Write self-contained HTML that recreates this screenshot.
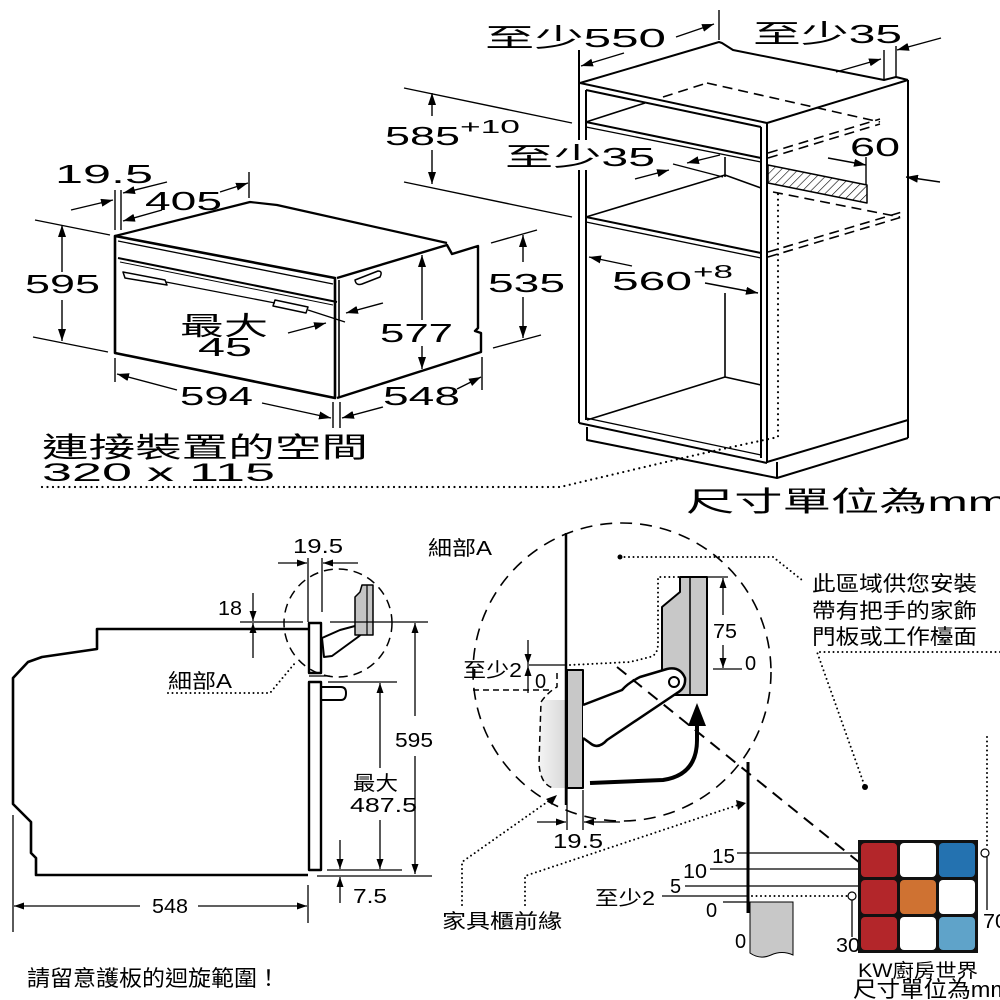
<!DOCTYPE html>
<html><head><meta charset="utf-8"><style>
html,body{margin:0;padding:0;background:#fff}
svg{display:block}
text{font-family:"Liberation Sans","Noto Sans CJK TC","Noto Sans CJK SC",sans-serif;fill:#000}
.w{font-size:26px}
.n{font-size:20px}
</style></head><body>
<svg width="1000" height="1000" viewBox="0 0 1000 1000" xmlns="http://www.w3.org/2000/svg">
<defs>
<marker id="a" viewBox="0 0 12 8" markerWidth="12" markerHeight="8" refX="12" refY="4" orient="auto" markerUnits="userSpaceOnUse"><path d="M0,0L12,4L0,8z"/></marker>
<marker id="s" viewBox="0 0 10 7" markerWidth="10" markerHeight="7" refX="10" refY="3.5" orient="auto" markerUnits="userSpaceOnUse"><path d="M0,0L10,3.5L0,7z"/></marker>
<pattern id="h" width="6" height="6" patternUnits="userSpaceOnUse" patternTransform="rotate(45)"><line x1="0" y1="0" x2="0" y2="6" stroke="#000" stroke-width="1.2"/></pattern>
<linearGradient id="g" x1="0" x2="1" y1="0" y2="0"><stop offset="0" stop-color="#f4f4f4"/><stop offset="1" stop-color="#d8d8d8"/></linearGradient>
</defs>
<rect width="1000" height="1000" fill="#fff"/>

<!-- ============ TOP LEFT OVEN ============ -->
<g stroke="#000" fill="none" stroke-linejoin="round">
  <path d="M115,236 L335,278 L335,398 L115,353 Z" stroke-width="2.6"/>
  <path d="M115,236 L250,202 L277,205 L447,243" stroke-width="2.2"/>
  <path d="M337,278 L447,245 L452,254 L478,246 L478,328 L475,331 L481,333 L481,352 L337,398" stroke-width="2.4"/>
  <line x1="118" y1="241" x2="333" y2="284" stroke-width="1.3"/>
  <line x1="118" y1="258" x2="337" y2="302" stroke-width="2"/>
  <line x1="120" y1="262" x2="333" y2="305" stroke-width="1"/>
  <line x1="339" y1="280" x2="339" y2="398" stroke-width="1.6"/>
  <path d="M123,272 L165,280 L167,285 L125,278 Z" stroke-width="1.5"/>
  <line x1="166" y1="282" x2="275" y2="303" stroke-width="1.3"/>
  <path d="M275,300 L308,307 L306,313 L273,306 Z" stroke-width="1.5"/>
  <path d="M355,280 L378,271 Q383,271 380,277 L362,284 Q356,286 355,280 Z" stroke-width="1.5"/>
  <g stroke-width="1.4">
    <line x1="115" y1="190" x2="115" y2="230"/>
    <line x1="121" y1="190" x2="121" y2="230"/>
    <line x1="71" y1="210" x2="113" y2="200" marker-end="url(#a)"/>
    <line x1="167" y1="182" x2="123" y2="193" marker-end="url(#a)"/>
    <line x1="162" y1="210" x2="123" y2="221" marker-end="url(#a)"/>
    <line x1="220" y1="192" x2="248" y2="183" marker-end="url(#a)"/>
    <line x1="249" y1="172" x2="249" y2="198"/>
    <line x1="35" y1="220" x2="110" y2="235"/>
    <line x1="33" y1="337" x2="108" y2="352"/>
    <line x1="62" y1="272" x2="62" y2="225" marker-end="url(#a)"/>
    <line x1="62" y1="300" x2="62" y2="341" marker-end="url(#a)"/>
    <line x1="308" y1="310" x2="345" y2="322"/>
    <line x1="288" y1="333" x2="326" y2="323" marker-end="url(#a)"/>
    <line x1="383" y1="303" x2="346" y2="313" marker-end="url(#a)"/>
    <line x1="422" y1="320" x2="422" y2="255" marker-end="url(#a)"/>
    <line x1="422" y1="346" x2="422" y2="369" marker-end="url(#a)"/>
    <line x1="115" y1="358" x2="115" y2="382"/>
    <line x1="333" y1="402" x2="333" y2="428"/>
    <line x1="340" y1="402" x2="340" y2="428"/>
    <line x1="177" y1="390" x2="117" y2="374" marker-end="url(#a)"/>
    <line x1="262" y1="403" x2="331" y2="418" marker-end="url(#a)"/>
    <line x1="383" y1="407" x2="342" y2="418" marker-end="url(#a)"/>
    <line x1="457" y1="389" x2="481" y2="377" marker-end="url(#a)"/>
    <line x1="482" y1="357" x2="482" y2="390"/>
    <line x1="491" y1="243" x2="537" y2="230"/>
    <line x1="493" y1="348" x2="541" y2="335"/>
    <line x1="523" y1="262" x2="523" y2="235" marker-end="url(#a)"/>
    <line x1="523" y1="297" x2="523" y2="338" marker-end="url(#a)"/>
    <line x1="404" y1="88" x2="572" y2="123"/>
    <line x1="404" y1="182" x2="572" y2="217"/>
    <line x1="432" y1="116" x2="432" y2="93" marker-end="url(#a)"/>
    <line x1="432" y1="150" x2="432" y2="184" marker-end="url(#a)"/>
  </g>
</g>
<text class="w" x="55" y="183" textLength="98" lengthAdjust="spacingAndGlyphs">19.5</text>
<text class="w" x="145" y="210" textLength="77" lengthAdjust="spacingAndGlyphs">405</text>
<text class="w" x="25" y="293" textLength="75" lengthAdjust="spacingAndGlyphs">595</text>
<text class="w" x="180" y="335" textLength="88" lengthAdjust="spacingAndGlyphs">最大</text>
<text class="w" x="198" y="356" textLength="54" lengthAdjust="spacingAndGlyphs">45</text>
<text class="w" x="380" y="342" textLength="73" lengthAdjust="spacingAndGlyphs">577</text>
<text class="w" x="180" y="405" textLength="73" lengthAdjust="spacingAndGlyphs">594</text>
<text class="w" x="383" y="405" textLength="77" lengthAdjust="spacingAndGlyphs">548</text>
<text class="w" x="488" y="292" textLength="77" lengthAdjust="spacingAndGlyphs">535</text>
<text style="font-size:28px" x="42" y="457" textLength="326" lengthAdjust="spacingAndGlyphs">連接裝置的空間</text>
<text style="font-size:25px" x="42" y="481" textLength="233" lengthAdjust="spacingAndGlyphs">320 x 115</text>

<!-- ============ CABINET ============ -->
<g stroke="#000" fill="none" stroke-width="2" stroke-linejoin="round">
  <line x1="579" y1="50" x2="579" y2="423"/>
  <line x1="586" y1="90" x2="586" y2="420"/>
  <path d="M580,83 L719,42 L722,43 L733,50 L884,80 L896,77 L908,80"/>
  <line x1="908" y1="80" x2="908" y2="438"/>
  <line x1="580" y1="83" x2="767" y2="123"/>
  <line x1="586" y1="90" x2="761" y2="127"/>
  <line x1="767" y1="123" x2="908" y2="80"/>
  <line x1="767" y1="123" x2="767" y2="463"/>
  <line x1="761" y1="127" x2="761" y2="458"/>
  <line x1="586" y1="122" x2="761" y2="158"/>
  <line x1="586" y1="127" x2="761" y2="162" stroke-width="1.3"/>
  <line x1="586" y1="122" x2="645" y2="103" stroke-width="1.6"/>
  <line x1="725" y1="157" x2="725" y2="177" stroke-width="1.6"/>
  <line x1="725" y1="175" x2="761" y2="188" stroke-width="1.6"/>
  <line x1="586" y1="217" x2="725" y2="175" stroke-width="1.6"/>
  <line x1="673" y1="164" x2="723" y2="177" stroke-width="1.3"/>
  <line x1="586" y1="217" x2="761" y2="253"/>
  <line x1="586" y1="222" x2="761" y2="258" stroke-width="1.3"/>
  <line x1="725" y1="293" x2="725" y2="377" stroke-width="1.6"/>
  <line x1="725" y1="377" x2="761" y2="385" stroke-width="1.6"/>
  <line x1="587" y1="420" x2="725" y2="377" stroke-width="1.6"/>
  <line x1="586" y1="418" x2="761" y2="455" stroke-width="1.3"/>
  <line x1="579" y1="423" x2="767" y2="463"/>
  <line x1="767" y1="462" x2="908" y2="420"/>
  <path d="M587,427 L587,440 L777,478 L908,438"/>
  <line x1="777" y1="462" x2="777" y2="478"/>
  <g stroke-dasharray="10,6" stroke-width="1.6">
    <line x1="663" y1="97" x2="707" y2="83"/>
    <line x1="707" y1="83" x2="880" y2="122"/>
    <line x1="768" y1="153" x2="880" y2="119"/>
    <line x1="768" y1="158" x2="880" y2="124"/>
    <line x1="773" y1="192" x2="900" y2="217"/>
    <line x1="768" y1="252" x2="902" y2="212"/>
    <line x1="768" y1="257" x2="902" y2="217"/>
  </g>
  <polygon points="768,165 867,185 867,203 768,183" fill="url(#h)" stroke-width="1.5"/>
  <g stroke-width="1.4">
    <line x1="866" y1="157" x2="866" y2="185"/>
    <line x1="828" y1="158" x2="866" y2="165" marker-end="url(#a)"/>
    <line x1="940" y1="182" x2="906" y2="177" marker-end="url(#a)"/>
    <line x1="720" y1="155" x2="687" y2="163" marker-end="url(#a)"/>
    <line x1="635" y1="179" x2="669" y2="170" marker-end="url(#a)"/>
    <line x1="676" y1="37" x2="714" y2="24" marker-end="url(#a)"/>
    <line x1="719" y1="10" x2="719" y2="40"/>
    <line x1="624" y1="53" x2="581" y2="66" marker-end="url(#a)"/>
    <line x1="836" y1="72" x2="881" y2="59" marker-end="url(#a)"/>
    <line x1="941" y1="38" x2="897" y2="50" marker-end="url(#a)"/>
    <line x1="884" y1="50" x2="884" y2="80"/>
    <line x1="896" y1="46" x2="896" y2="77"/>
    <line x1="632" y1="266" x2="589" y2="257" marker-end="url(#a)"/>
    <line x1="705" y1="283" x2="758" y2="293" marker-end="url(#a)"/>
  </g>
</g>
<path d="M42,487 L560,487 L687,457 L727,448 L778,437 L778,193" fill="none" stroke="#000" stroke-width="2.2" stroke-dasharray="0,5.5" stroke-linecap="round"/>
<rect x="570" y="140" width="24" height="30" fill="#fff"/>
<text class="w" x="485" y="47" textLength="181" lengthAdjust="spacingAndGlyphs">至少550</text>
<text class="w" x="753" y="43" textLength="149" lengthAdjust="spacingAndGlyphs">至少35</text>
<text class="w" x="505" y="166" textLength="150" lengthAdjust="spacingAndGlyphs">至少35</text>
<text class="w" x="385" y="145" textLength="75" lengthAdjust="spacingAndGlyphs">585</text>
<text style="font-size:18px" x="460" y="133" textLength="60" lengthAdjust="spacingAndGlyphs">+10</text>
<text class="w" x="850" y="156" textLength="50" lengthAdjust="spacingAndGlyphs">60</text>
<text class="w" x="612" y="290" textLength="80" lengthAdjust="spacingAndGlyphs">560</text>
<text style="font-size:18px" x="693" y="278" textLength="40" lengthAdjust="spacingAndGlyphs">+8</text>
<text style="font-size:28px" x="686" y="511" textLength="322" lengthAdjust="spacingAndGlyphs">尺寸單位為mm</text>

<!-- ============ BOTTOM LEFT SIDE VIEW ============ -->
<g stroke="#000" fill="none" stroke-linejoin="round">
  <path d="M308,629 L97,629 L97,649 L42,657 L28,662 L13,678 L13,804 L31,822 L31,853 L36,858 L36,875 L308,875" stroke-width="2.6"/>
  <rect x="309" y="623" width="12" height="50" stroke-width="2.4"/>
  <line x1="309" y1="676" x2="330" y2="676" stroke-width="1.3"/>
  <rect x="309" y="682" width="12" height="188" stroke-width="2.4"/>
  <path d="M321,687 L341,687 Q346,687 346,693 Q346,700 341,700 L321,700" stroke-width="2"/>
  <polygon points="322,638 340,630 355,626 362,627 364,632 358,637 332,656 324,657" fill="#fff" stroke-width="2"/>
  <circle cx="359" cy="630" r="2.8" fill="#fff" stroke-width="1.5"/>
  <polygon points="362,585 373,585 373,635 355,635 355,597 360,592" fill="#c4c4c4" stroke-width="1.5"/>
  <line x1="367" y1="585" x2="367" y2="635" stroke-width="1.2"/>
  <circle cx="338" cy="623" r="54" stroke-width="1.5" stroke-dasharray="9,6"/>
  <g stroke-width="1.3">
    <line x1="308" y1="558" x2="308" y2="622"/>
    <line x1="322" y1="558" x2="322" y2="612"/>
    <line x1="278" y1="563" x2="307" y2="563" marker-end="url(#s)"/>
    <line x1="358" y1="563" x2="323" y2="563" marker-end="url(#s)"/>
    <line x1="253" y1="593" x2="253" y2="621" marker-end="url(#s)"/>
    <line x1="253" y1="658" x2="253" y2="623" marker-end="url(#s)"/>
    <line x1="240" y1="622" x2="303" y2="622"/>
    <line x1="330" y1="622" x2="428" y2="622"/>
    <line x1="415" y1="716" x2="415" y2="623" marker-end="url(#s)"/>
    <line x1="415" y1="756" x2="415" y2="874" marker-end="url(#s)"/>
    <line x1="328" y1="682" x2="397" y2="682"/>
    <line x1="380" y1="768" x2="380" y2="683" marker-end="url(#s)"/>
    <line x1="380" y1="820" x2="380" y2="869" marker-end="url(#s)"/>
    <line x1="327" y1="870" x2="402" y2="870"/>
    <line x1="317" y1="876" x2="432" y2="876"/>
    <line x1="340" y1="840" x2="340" y2="869" marker-end="url(#s)"/>
    <line x1="340" y1="903" x2="340" y2="877" marker-end="url(#s)"/>
    <line x1="140" y1="906" x2="14" y2="906" marker-end="url(#s)"/>
    <line x1="198" y1="906" x2="307" y2="906" marker-end="url(#s)"/>
    <line x1="13" y1="815" x2="13" y2="932"/>
    <line x1="308" y1="885" x2="308" y2="923"/>
  </g>
  <path d="M168,693 L270,693 L295,663" stroke-width="2" stroke-dasharray="0,4.5" stroke-linecap="round"/>
</g>
<text class="n" x="293" y="553" textLength="50" lengthAdjust="spacingAndGlyphs">19.5</text>
<text class="n" x="218" y="615" textLength="24" lengthAdjust="spacingAndGlyphs">18</text>
<text class="n" x="168" y="688" textLength="64" lengthAdjust="spacingAndGlyphs">細部A</text>
<text class="n" x="395" y="747" textLength="38" lengthAdjust="spacingAndGlyphs">595</text>
<text class="n" x="353" y="790" textLength="45" lengthAdjust="spacingAndGlyphs">最大</text>
<text class="n" x="350" y="812" textLength="67" lengthAdjust="spacingAndGlyphs">487.5</text>
<text class="n" x="353" y="903" textLength="34" lengthAdjust="spacingAndGlyphs">7.5</text>
<text class="n" x="152" y="913" textLength="36" lengthAdjust="spacingAndGlyphs">548</text>
<text style="font-size:22px" x="27" y="986" textLength="253" lengthAdjust="spacingAndGlyphs">請留意護板的迴旋範圍！</text>

<!-- ============ DETAIL A ============ -->
<g stroke="#000" fill="none" stroke-linejoin="round">
  <circle cx="622" cy="672" r="149" stroke-width="1.6" stroke-dasharray="12,8"/>
  <path d="M541,700 L566,700 L566,788 L553,788 Q539,782 539,763 Z" fill="url(#g)" stroke="none"/>
  <path d="M473,690 L552,690 M557,673 L557,687 Q548,692 541,702 L539,763 Q540,784 553,788" stroke-width="1.5" stroke-dasharray="6,4"/>
  <line x1="566" y1="533" x2="566" y2="805" stroke-width="2.5"/>
  <rect x="567" y="670" width="16" height="118" fill="#c8c8c8" stroke-width="2"/>
  <polygon points="680,577 707,577 707,695 662,695 662,607 680,592" fill="#c8c8c8" stroke-width="2"/>
  <line x1="690" y1="577" x2="690" y2="695" stroke-width="1.5"/>
  <path d="M570,665 L630,662 L650,657 Q658,655 658,643 L658,577 L680,577" stroke-width="2" stroke-dasharray="0,4.5" stroke-linecap="round"/>
  <path d="M583,705 L622,690 Q628,683 640,677 L667,669 Q680,666 685,678 Q686,688 677,693 L607,740 Q598,750 590,743 L583,738" fill="#fff" stroke-width="2.5"/>
  <circle cx="674" cy="682" r="5" fill="#fff" stroke-width="2"/>
  <path d="M590,783 L663,780 Q697,775 697,740 L697,724" stroke-width="4"/>
  <polygon points="688,726 706,726 697,703" fill="#000" stroke="none"/>
  <line x1="617" y1="667" x2="860" y2="863" stroke-width="2" stroke-dasharray="12,8"/>
  <g stroke-width="1.3">
    <line x1="527" y1="665" x2="567" y2="665"/>
    <line x1="528" y1="640" x2="528" y2="664" marker-end="url(#s)"/>
    <line x1="528" y1="693" x2="528" y2="666" marker-end="url(#s)"/>
    <line x1="707" y1="577" x2="728" y2="577"/>
    <line x1="713" y1="669" x2="742" y2="669"/>
    <line x1="723" y1="615" x2="723" y2="578" marker-end="url(#s)"/>
    <line x1="723" y1="645" x2="723" y2="668" marker-end="url(#s)"/>
    <line x1="567" y1="788" x2="567" y2="830"/>
    <line x1="583" y1="790" x2="583" y2="830"/>
    <line x1="537" y1="822" x2="566" y2="822" marker-end="url(#s)"/>
    <line x1="620" y1="822" x2="584" y2="822" marker-end="url(#s)"/>
  </g>
  <g stroke-width="2" stroke-dasharray="0,4.5" stroke-linecap="round">
    <path d="M462,905 L462,862 L550,800"/>
    <path d="M525,905 L525,876 L738,805"/>
    <path d="M620,557 L773,557 L802,580"/>
    <path d="M1000,652 L817,652 L865,787"/>
    <path d="M987,737 L987,849"/>
    <path d="M752,896 L848,896"/>
  </g>
  <polygon points="557,795 552,805 546,799" fill="#000" stroke="none"/>
  <polygon points="746,803 736,800 738,810" fill="#000" stroke="none"/>
  <circle cx="620" cy="557" r="2.5" fill="#000" stroke="none"/>
  <circle cx="865" cy="787" r="3" fill="#000" stroke="none"/>
</g>
<text class="n" x="428" y="555" textLength="64" lengthAdjust="spacingAndGlyphs">細部A</text>
<text class="n" x="463" y="677" textLength="59" lengthAdjust="spacingAndGlyphs">至少2</text>
<text class="n" x="535" y="688">0</text>
<text class="n" x="713" y="638" textLength="24" lengthAdjust="spacingAndGlyphs">75</text>
<text class="n" x="745" y="670">0</text>
<text class="n" x="553" y="848" textLength="50" lengthAdjust="spacingAndGlyphs">19.5</text>
<text class="n" x="442" y="928" textLength="120" lengthAdjust="spacingAndGlyphs">家具櫃前緣</text>
<text style="font-size:21px" x="812" y="591" textLength="165" lengthAdjust="spacingAndGlyphs">此區域供您安裝</text>
<text style="font-size:21px" x="812" y="618" textLength="165" lengthAdjust="spacingAndGlyphs">帶有把手的家飾</text>
<text style="font-size:21px" x="812" y="644" textLength="165" lengthAdjust="spacingAndGlyphs">門板或工作檯面</text>

<!-- ============ BOTTOM RIGHT ============ -->
<g stroke="#000" fill="none">
  <line x1="748" y1="762" x2="748" y2="913" stroke-width="3"/>
  <path d="M750,902 L793,902 L793,955 Q782,950 771,955 Q760,960 750,953 Z" fill="#c8c8c8" stroke-width="1"/>
  <g stroke-width="1.3">
    <line x1="737" y1="853" x2="858" y2="853"/>
    <line x1="710" y1="869" x2="858" y2="869"/>
    <line x1="685" y1="886" x2="858" y2="886"/>
    <line x1="662" y1="896" x2="748" y2="896"/>
    <line x1="723" y1="902" x2="748" y2="902"/>
    <line x1="852" y1="900" x2="852" y2="937"/>
    <line x1="987" y1="857" x2="987" y2="910"/>
  </g>
  <circle cx="852" cy="896" r="4" stroke-width="1.2" fill="#fff"/>
  <circle cx="985" cy="853" r="4" stroke-width="1.2" fill="#fff"/>
</g>
<text class="n" x="712" y="863" textLength="23" lengthAdjust="spacingAndGlyphs">15</text>
<text class="n" x="683" y="878" textLength="24" lengthAdjust="spacingAndGlyphs">10</text>
<text class="n" x="670" y="893">5</text>
<text class="n" x="595" y="905" textLength="60" lengthAdjust="spacingAndGlyphs">至少2</text>
<text class="n" x="706" y="917">0</text>
<text class="n" x="735" y="948">0</text>
<text class="n" x="836" y="952" textLength="24" lengthAdjust="spacingAndGlyphs">30</text>
<text class="n" x="983" y="928" textLength="24" lengthAdjust="spacingAndGlyphs">70</text>
<rect x="858" y="840" width="120" height="113" fill="#111"/>
<rect x="861" y="843" width="36" height="34" rx="4" fill="#b3262a"/>
<rect x="900" y="843" width="36" height="34" rx="4" fill="#fff"/>
<rect x="939" y="843" width="36" height="34" rx="4" fill="#2472b0"/>
<rect x="861" y="880" width="36" height="34" rx="4" fill="#b3262a"/>
<rect x="900" y="880" width="36" height="34" rx="4" fill="#cf7232"/>
<rect x="939" y="880" width="36" height="34" rx="4" fill="#fff"/>
<rect x="861" y="917" width="36" height="33" rx="4" fill="#b3262a"/>
<rect x="900" y="917" width="36" height="33" rx="4" fill="#fff"/>
<rect x="939" y="917" width="36" height="33" rx="4" fill="#5fa3c9"/>
<text style="font-size:19px" x="858" y="977" textLength="120" lengthAdjust="spacingAndGlyphs">KW廚房世界</text>
<text style="font-size:22px" x="853" y="997" textLength="157" lengthAdjust="spacingAndGlyphs">尺寸單位為mm</text>
</svg>
</body></html>
